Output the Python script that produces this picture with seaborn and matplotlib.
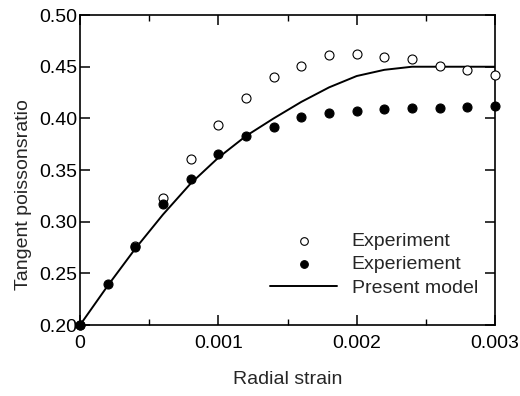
import numpy as np
import pandas as pd
import matplotlib
matplotlib.use("Agg")
import matplotlib.pyplot as plt
import seaborn as sns
from matplotlib.ticker import MultipleLocator, FixedLocator

# Data
strain = [0.0, 0.0002, 0.0004, 0.0006, 0.0008, 0.0010, 0.0012, 0.0014,
          0.0016, 0.0018, 0.0020, 0.0022, 0.0024, 0.0026, 0.0028, 0.0030]
open_strain = [0.0, 0.0004, 0.0006, 0.0008, 0.0010, 0.0012, 0.0014,
               0.0016, 0.0018, 0.0020, 0.0022, 0.0024, 0.0026, 0.0028, 0.0030]
exp_open = [0.200, 0.277, 0.323, 0.361, 0.394, 0.420, 0.440,
            0.451, 0.461, 0.462, 0.459, 0.457, 0.451, 0.447, 0.442]
exp_filled = [0.200, 0.240, 0.276, 0.317, 0.341, 0.366, 0.383, 0.392,
              0.401, 0.405, 0.407, 0.409, 0.410, 0.410, 0.411, 0.412]
model = [0.200, 0.238, 0.274, 0.307, 0.337, 0.362, 0.383, 0.400,
         0.416, 0.430, 0.441, 0.447, 0.450, 0.450, 0.450, 0.450]

x_ticks = [0, 0.001, 0.002, 0.003]
x_ticklabels = ["0", "0.001", "0.002", "0.003"]
y_ticks = [0.20, 0.25, 0.30, 0.35, 0.40, 0.45, 0.50]
y_ticklabels = ["0.20", "0.25", "0.30", "0.35", "0.40", "0.45", "0.50"]

df_open = pd.DataFrame({"strain": open_strain, "nu": exp_open})
df_filled = pd.DataFrame({"strain": strain, "nu": exp_filled})
df_model = pd.DataFrame({"strain": strain, "nu": model})

sns.set_style("ticks")
plt.rcParams["font.family"] = ["Liberation Sans", "DejaVu Sans"]
plt.rcParams["font.size"] = 14

fig = plt.figure(figsize=(5.2, 3.96), dpi=100)
ax = fig.add_axes([0.1538, 0.179, 0.952 - 0.1538, 0.962 - 0.179])

sns.lineplot(data=df_model, x="strain", y="nu", ax=ax, color="black",
             linewidth=1.4, label="Present model", zorder=2)
sns.scatterplot(data=df_open, x="strain", y="nu", ax=ax, marker="o",
                facecolor="white", edgecolor="black", linewidth=0.8, s=42,
                label="Experiment", zorder=3, clip_on=False)
sns.scatterplot(data=df_filled, x="strain", y="nu", ax=ax, marker="o",
                color="black", edgecolor="black", linewidth=0.8, s=42,
                label="Experiement", zorder=4, clip_on=False)

ax.set_xlim(0, 0.003)
ax.set_ylim(0.20, 0.50)
ax.xaxis.set_major_locator(FixedLocator(x_ticks))
ax.set_xticklabels(x_ticklabels)
ax.xaxis.set_minor_locator(MultipleLocator(0.0005))
ax.yaxis.set_major_locator(FixedLocator(y_ticks))
ax.set_yticklabels(y_ticklabels)

ax.tick_params(axis="both", which="both", direction="in", top=True,
               right=True, labelsize=14, colors="black")
ax.tick_params(axis="y", which="major", pad=2)
ax.tick_params(axis="x", which="major", pad=7)
ax.tick_params(axis="both", which="major", length=7, width=1.1)
ax.tick_params(axis="both", which="minor", length=4, width=1.0)
ax.tick_params(axis="y", which="minor", left=False, right=False)
for sp in ax.spines.values():
    sp.set_linewidth(1.2)
    sp.set_color("black")

ax.set_xlabel("Radial strain", fontsize=14, labelpad=14)
ax.set_ylabel("Tangent poissonsratio", fontsize=14)
ax.yaxis.set_label_coords(-0.115, 0.42)

handles, labels = ax.get_legend_handles_labels()
order = [labels.index("Experiment"), labels.index("Experiement"),
         labels.index("Present model")]
leg = ax.legend([handles[i] for i in order], [labels[i] for i in order],
                loc="upper left", bbox_to_anchor=(0.458, 0.30), frameon=False,
                fontsize=14, handlelength=3.45, handletextpad=0.75,
                labelspacing=0.3, borderpad=0.0, borderaxespad=0.0,
                markerscale=0.85)

fig.savefig("out.png", dpi=100)
